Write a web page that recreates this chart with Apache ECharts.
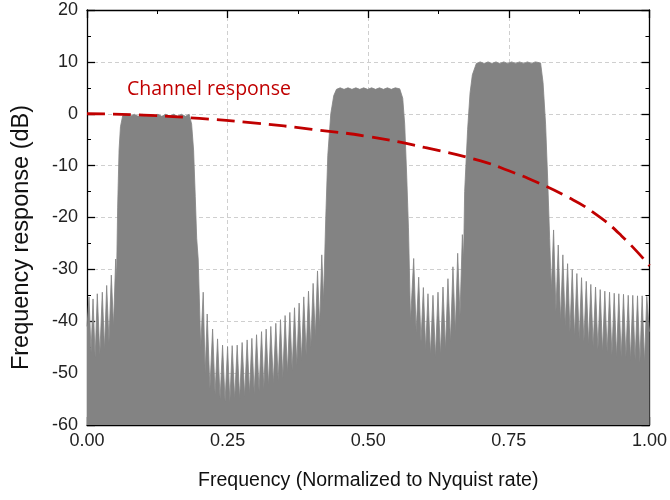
<!DOCTYPE html>
<html>
<head>
<meta charset="utf-8">
<script src="https://cdn.jsdelivr.net/npm/echarts@6/dist/echarts.min.js"></script>
<style>
  html, body { margin: 0; padding: 0; background: #fff; }
  #ChartSpectrum { width: 670px; height: 500px; }
</style>
</head>
<body>
<div id="ChartSpectrum"></div>
<script>
// spectrum samples: peaks and nulls of the sidelobes, passband tops
var freq = [
  0.0000, 0.0036, 0.0072, 0.0107, 0.0145, 0.0183, 0.0228, 0.0272, 0.0311, 0.0350,
  0.0391, 0.0432, 0.0471, 0.0510, 0.0525, 0.0545, 0.0570, 0.0595, 0.0634,
  0.0700, 0.0770, 0.0840, 0.0910, 0.0980, 0.1050, 0.1120, 0.1190, 0.1260, 0.1330,
  0.1400, 0.1470, 0.1540, 0.1610, 0.1680, 0.1750, 0.1817, 0.1860, 0.1895, 0.1925,
  0.1950, 0.1977,
  0.2022, 0.2066, 0.2101, 0.2137, 0.2185, 0.2233, 0.2277, 0.2321, 0.2366, 0.2410,
  0.2455, 0.2499, 0.2540, 0.2581, 0.2626, 0.2670, 0.2714, 0.2758, 0.2803, 0.2847,
  0.2889, 0.2931, 0.2973, 0.3014, 0.3059, 0.3103, 0.3144, 0.3185, 0.3227, 0.3268,
  0.3313, 0.3357, 0.3399, 0.3440, 0.3481, 0.3522, 0.3564, 0.3606, 0.3648, 0.3689,
  0.3730, 0.3771, 0.3813, 0.3854, 0.3896, 0.3938, 0.3979, 0.4020, 0.4059, 0.4098,
  0.4136, 0.4174, 0.4205,
  0.4245, 0.4281, 0.4334, 0.4387, 0.4435, 0.4500, 0.4570, 0.4640, 0.4710, 0.4780,
  0.4850, 0.4920, 0.4990, 0.5060, 0.5130, 0.5200, 0.5270, 0.5340, 0.5410, 0.5480,
  0.5560, 0.5613, 0.5648, 0.5684, 0.5715, 0.5752,
  0.5808, 0.5852, 0.5897, 0.5938, 0.5980, 0.6021, 0.6062, 0.6106, 0.6151, 0.6195,
  0.6240, 0.6284, 0.6329, 0.6373, 0.6417, 0.6462, 0.6506, 0.6548, 0.6590, 0.6631,
  0.6673, 0.6695,
  0.6714, 0.6767, 0.6810, 0.6851, 0.6922, 0.6990, 0.7060, 0.7130, 0.7200, 0.7270,
  0.7340, 0.7410, 0.7480, 0.7550, 0.7620, 0.7690, 0.7760, 0.7830, 0.7900, 0.7970,
  0.8064, 0.8108, 0.8153, 0.8188, 0.8225, 0.8255,
  0.8295, 0.8337, 0.8378, 0.8419, 0.8460, 0.8502, 0.8544, 0.8586, 0.8627, 0.8668,
  0.8709, 0.8751, 0.8792, 0.8834, 0.8876, 0.8917, 0.8957, 0.8999, 0.9041, 0.9083,
  0.9124, 0.9165, 0.9206, 0.9248, 0.9290, 0.9332, 0.9373, 0.9414, 0.9455, 0.9497,
  0.9538, 0.9580, 0.9622, 0.9663, 0.9703, 0.9745, 0.9787, 0.9829, 0.9870, 0.9911,
  0.9952, 1.0000
];
var level = [
  -41, -35.3, -46, -35.7, -47, -34.7, -46.5, -34.4, -45.5, -33.1,
  -44, -31.1, -41, -28, -32, -18, -7, -2.5, -0.4,
  -0.1, -0.5, -0.1, -0.5, -0.1, -0.5, -0.1, -0.5, -0.1, -0.5,
  -0.1, -0.5, -0.1, -0.5, -0.1, -0.5, -0.1, -2, -7, -16,
  -24, -28,
  -45, -34.4, -50, -38.6, -53, -41.5, -54, -43.4, -55, -44.6,
  -55.5, -44.9, -55.5, -44.7, -55, -44.6, -55, -44.1, -54.5, -43.6,
  -54, -43.3, -54, -42.6, -53.5, -42, -53, -41.5, -52.5, -41,
  -52, -40.4, -51.5, -39.7, -51, -38.9, -50, -38.3, -49.5, -37.4,
  -48.5, -36.5, -47.5, -35.3, -46.5, -34.2, -45, -32.7, -43, -30.3,
  -41, -27.2, -36,
  -20, -8, 0, 3.5, 4.7, 5.0, 4.7, 5.0, 4.7, 5.0,
  4.7, 5.0, 4.7, 5.0, 4.7, 5.0, 4.7, 5.0, 4.7, 5.0,
  4.8, 3, -2, -12, -22, -40,
  -27.9, -42, -31.5, -44, -33.5, -45.5, -34.7, -46.5, -35, -47,
  -34.4, -46.5, -33.4, -45.5, -31.8, -44, -29.5, -42, -26.9, -39,
  -23.3, -28,
  -15, -3, 4, 7.5, 9.7, 10.0, 9.7, 10.0, 9.7, 10.0,
  9.7, 10.0, 9.7, 10.0, 9.7, 10.0, 9.7, 10.0, 9.7, 10.0,
  9.8, 6, -2, -12, -24, -34,
  -22.4, -38, -25.3, -40, -27.2, -41, -28.9, -42, -30, -43,
  -30.8, -43.5, -31.6, -44, -32.3, -44.5, -32.9, -45, -33.4, -45.5,
  -33.9, -46, -34.2, -46, -34.4, -46.5, -34.6, -47, -34.7, -47,
  -34.8, -47, -35, -47.5, -35, -47.5, -35.1, -48, -35.1, -48,
  -35.2, -42
];

// channel response (red dashed curve)
var chanFreq = [0, 0.1, 0.2, 0.3, 0.4, 0.5, 0.6, 0.7, 0.75, 0.8, 0.85, 0.9, 0.95, 1.0];
var chanLevel = [0, -0.25, -0.9, -1.8, -3.0, -4.4, -6.5, -9.1, -11.0, -13.2, -15.8, -19, -23.5, -29.3];

var xTicks = { min: 0, max: 1, interval: 0.25 };
var yTicks = { min: -60, max: 20, interval: 10 };

function pairs(xs, ys) {
  var out = [];
  for (var i = 0; i < xs.length; i++) { out.push([xs[i], ys[i]]); }
  return out;
}

function ShowSpectrum() {
  var chart = echarts.init(document.getElementById("ChartSpectrum"));
  var font = 'Liberation Sans';
  var frame = { show: true, onZero: false, lineStyle: { color: '#000', width: 1.3 } };
  var tick = { show: true, inside: true, length: 8, lineStyle: { color: '#000', width: 1.3 } };
  var minor = { show: true, splitNumber: 2, length: 4, lineStyle: { color: '#000', width: 1 } };
  var grid = { show: true, lineStyle: { color: '#cfcfcf', type: [4, 3], width: 1 } };

  var option = {
    animation: false,
    backgroundColor: '#fff',
    grid: { left: 87, right: 20, top: 10, bottom: 75 },
    xAxis: [
      {
        type: 'value', min: xTicks.min, max: xTicks.max, interval: xTicks.interval,
        name: 'Frequency (Normalized to Nyquist rate)', nameLocation: 'middle', nameGap: 46,
        nameTextStyle: { fontFamily: font, fontSize: 19.5, color: '#111' },
        axisLine: frame, axisTick: tick, minorTick: minor, splitLine: grid,
        axisLabel: { fontFamily: font, fontSize: 18, color: '#222', margin: 7,
          formatter: function (v) { return v.toFixed(2); } }
      },
      {
        type: 'value', position: 'top', min: xTicks.min, max: xTicks.max, interval: xTicks.interval,
        axisLine: frame, axisTick: tick, minorTick: minor, splitLine: { show: false },
        axisLabel: { show: false }
      }
    ],
    yAxis: [
      {
        type: 'value', min: yTicks.min, max: yTicks.max, interval: yTicks.interval,
        name: 'Frequency response (dB)', nameLocation: 'middle', nameGap: 53,
        // pushed a bit below the middle, like the original
        nameTextStyle: { fontFamily: font, fontSize: 23.5, color: '#111', padding: [0, 40, 0, 0] },
        axisLine: frame, axisTick: tick, minorTick: minor, splitLine: grid,
        axisLabel: { fontFamily: font, fontSize: 18, color: '#222', margin: 9 }
      },
      {
        type: 'value', position: 'right', min: yTicks.min, max: yTicks.max, interval: yTicks.interval,
        axisLine: frame, axisTick: tick, minorTick: minor, splitLine: { show: false },
        axisLabel: { show: false }
      }
    ],
    graphic: [
      {
        type: 'text', left: 127, top: 79,
        style: { text: 'Channel response', fill: '#c00000', font: '19.5px "Open Sans"' }
      }
    ],
    series: [
      {
        name: 'Spectrum',
        type: 'line',
        data: pairs(freq, level),
        showSymbol: false,
        lineStyle: { color: '#838383', width: 0.8 },
        areaStyle: { color: '#838383', opacity: 1, origin: 'start' },
        z: 2
      },
      {
        name: 'Channel response',
        type: 'line',
        data: pairs(chanFreq, chanLevel),
        smooth: true,
        showSymbol: false,
        lineStyle: { color: '#c00000', width: 2.8, type: [18, 8] },
        z: 3
      }
    ]
  };

  chart.setOption(option);
}

ShowSpectrum();
</script>
</body>
</html>
